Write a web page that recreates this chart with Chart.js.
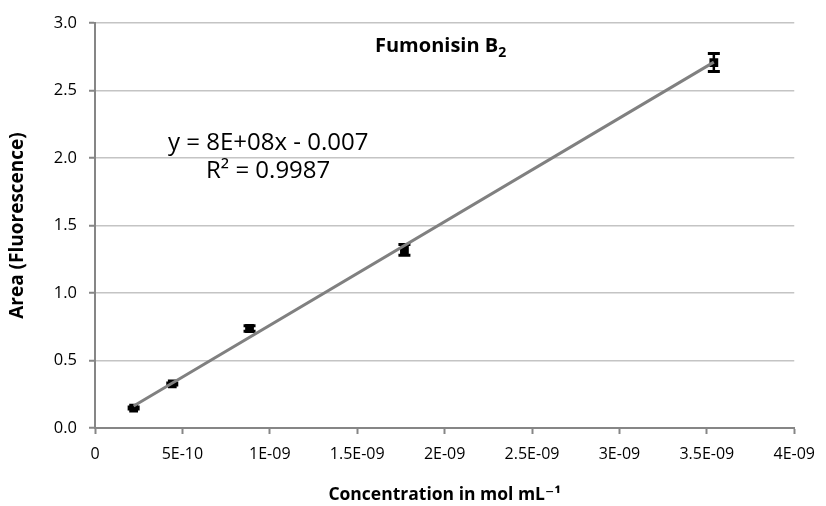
<!DOCTYPE html>
<html>
<head>
<meta charset="utf-8">
<script src="https://cdn.jsdelivr.net/npm/chart.js@4"></script>
<style>
  html, body { margin: 0; padding: 0; background: #fff; }
</style>
</head>
<body>
<canvas id="fb2" width="826" height="506"></canvas>
<script>
// calibration data
var concentration = [2.21e-10, 4.42e-10, 8.84e-10, 1.77e-9, 3.54e-9];
var area = [0.148, 0.326, 0.737, 1.319, 2.707];
var areaError = [0.008, 0.008, 0.02, 0.04, 0.067];

// trendline ends (y = 8E+08x - 0.007)
var trendX = [2.21e-10, 3.54e-9];
var trendY = [0.163, 2.71];

var xTickLabels = ['0', '5E-10', '1E-09', '1.5E-09', '2E-09', '2.5E-09', '3E-09', '3.5E-09', '4E-09'];
var yTickLabels = ['0.0', '0.5', '1.0', '1.5', '2.0', '2.5', '3.0'];

var FONT = "'Open Sans', 'DejaVu Sans', sans-serif";

var errorBars = {
	id: 'errorBars',
	beforeDatasetsDraw: function(chart) {
		var ctx = chart.ctx, xs = chart.scales.x, ys = chart.scales.y;
		ctx.save();
		ctx.strokeStyle = '#000';
		for (var i = 0; i < concentration.length; i++) {
			var px = xs.getPixelForValue(concentration[i]);
			var top = ys.getPixelForValue(area[i] + areaError[i]);
			var bot = ys.getPixelForValue(area[i] - areaError[i]);
			ctx.lineWidth = 2.5;
			ctx.beginPath();
			ctx.moveTo(px, top);
			ctx.lineTo(px, bot);
			ctx.stroke();
			ctx.lineWidth = 3;
			ctx.beginPath();
			ctx.moveTo(px - 6, top);
			ctx.lineTo(px + 6, top);
			ctx.moveTo(px - 6, bot);
			ctx.lineTo(px + 6, bot);
			ctx.stroke();
		}
		ctx.restore();
	}
};

var labels = {
	id: 'labels',
	afterDraw: function(chart) {
		var ctx = chart.ctx;
		ctx.save();
		ctx.fillStyle = '#000';
		ctx.textBaseline = 'alphabetic';
		// chart title with subscript
		ctx.font = "bold 20px " + FONT;
		ctx.fillText('Fumonisin B', 375, 52);
		var w = ctx.measureText('Fumonisin B').width;
		ctx.font = "bold 14px " + FONT;
		ctx.fillText('2', 375 + w, 57);
		// trendline equation
		ctx.font = "24px " + FONT;
		ctx.fillText('y = 8E+08x - 0.007', 168, 150);
		ctx.fillText('R\u00B2 = 0.9987', 206, 178);
		ctx.restore();
	}
};

new Chart(document.getElementById('fb2'), {
	type: 'scatter',
	data: {
		datasets: [{
			label: 'trend',
			type: 'line',
			data: trendX.map(function(x, i) { return {x: x, y: trendY[i]}; }),
			borderColor: '#808080',
			borderWidth: 3,
			pointRadius: 0,
			fill: false
		}, {
			label: 'Fumonisin B2',
			data: concentration.map(function(x, i) { return {x: x, y: area[i]}; }),
			pointStyle: 'rect',
			pointRadius: 6.2,
			backgroundColor: '#000',
			borderColor: '#000',
			borderWidth: 0
		}]
	},
	options: {
		responsive: false,
		animation: false,
		devicePixelRatio: 1,
		layout: { padding: { left: 0, right: 28, top: 23, bottom: 0 } },
		plugins: {
			legend: { display: false },
			tooltip: { enabled: false }
		},
		scales: {
			x: {
				type: 'linear',
				min: 0,
				max: 4e-9,
				afterFit: function(s) { s.height = 78; },
				border: { color: '#868686', width: 2 },
				grid: { drawOnChartArea: false, drawTicks: true, tickLength: 6, tickColor: '#868686', tickWidth: 2 },
				ticks: {
					stepSize: 5e-10,
					padding: 11,
					color: '#000',
					font: { family: FONT, size: 16 },
					maxRotation: 0,
					callback: function(v, i) { return xTickLabels[i]; }
				},
				title: {
					display: true,
					text: 'Concentration in mol mL\u207B\u00B9',
					color: '#000',
					font: { family: FONT, size: 17.5, weight: 'bold' },
					padding: { top: 3, bottom: 0 }
				}
			},
			y: {
				min: 0,
				max: 3,
				afterFit: function(s) { s.width = 95; },
				border: { color: '#868686', width: 2 },
				grid: { color: '#c4c4c4', lineWidth: 1.5, tickLength: 6, tickColor: '#868686', tickWidth: 2 },
				ticks: {
					stepSize: 0.5,
					padding: 12,
					color: '#000',
					font: { family: FONT, size: 16.5 },
					callback: function(v, i) { return yTickLabels[i]; }
				},
				title: {
					display: true,
					text: 'Area (Fluorescence)',
					color: '#000',
					font: { family: FONT, size: 19, weight: 'bold' },
					padding: { top: 6, bottom: 0 }
				}
			}
		}
	},
	plugins: [errorBars, labels]
});
</script>
</body>
</html>
